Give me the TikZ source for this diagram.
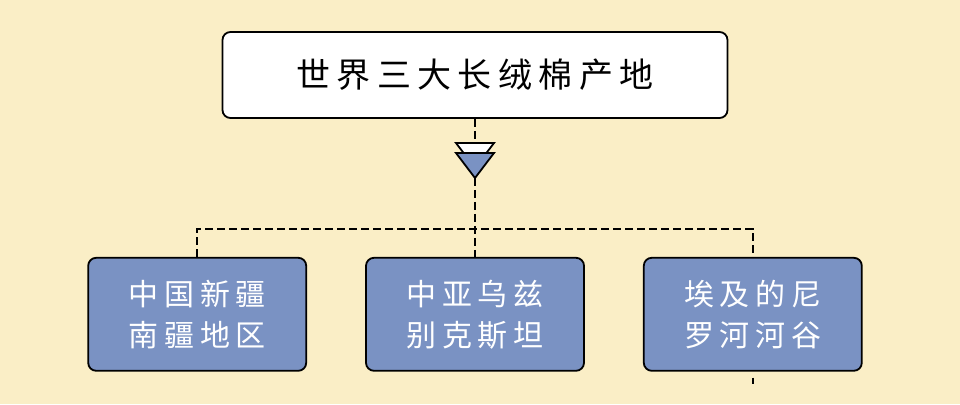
\documentclass[tikz,border=0pt]{standalone}
\usepackage{fontspec}
\newfontfamily\cjk[LetterSpace=19]{Noto Sans CJK SC}
\usetikzlibrary{positioning}
\definecolor{mijiu}{HTML}{FAEEC6}
\definecolor{lanhui}{HTML}{7A92C3}
\tikzset{
  biaoti/.style={draw,line width=1.8pt,rounded corners=8pt,fill=white,minimum width=505pt,
                 minimum height=86pt,font={\cjk\fontsize{34}{40}\selectfont}},
  kuai/.style={draw,line width=1.8pt,rounded corners=8pt,fill=lanhui,text=white,align=center,
               minimum width=218pt,minimum height=113pt,font={\cjk\fontsize{30}{41}\selectfont}},
  xuxian/.style={line width=1.8pt,dash pattern=on 8pt off 4pt},
  sanjiao/.style={draw,line width=1.8pt,line join=miter},
}
\begin{document}
\begin{tikzpicture}[x=1pt,y=1pt,node distance=58pt]
  \fill[mijiu] (0,0) rectangle (960,404);
  \useasboundingbox (0,0) rectangle (960,404);
  \node[biaoti] (zong) at (475,329) {世界三大长绒棉产地};
  \node[kuai,below=138pt of zong] (b2) {中亚乌兹\\别克斯坦};
  \node[kuai,left=of b2] (b1) {中国新疆\\南疆地区};
  \node[kuai,right=of b2] (b3) {埃及的尼\\罗河河谷};
  % 分流符号
  \coordinate (tding) at (475,261);
  \coordinate (tjian) at (475,226);
  \filldraw[sanjiao,fill=white] (456,261) -- (494,261) -- (475,236) -- cycle;
  \filldraw[sanjiao,fill=lanhui] (456,251) -- (494,251) -- (tjian) -- cycle;
  \coordinate (fen) at (475,175);
  \draw[xuxian] (zong.south) -- (tding);
  \draw[xuxian] (tjian) -- (fen) -- (b2.north);
  \draw[xuxian] (b1.north) |- (fen) -| (b3.north);
  \draw[xuxian] (b3.south) ++(0,-6) -- ++(0,-6);
\end{tikzpicture}
\end{document}
